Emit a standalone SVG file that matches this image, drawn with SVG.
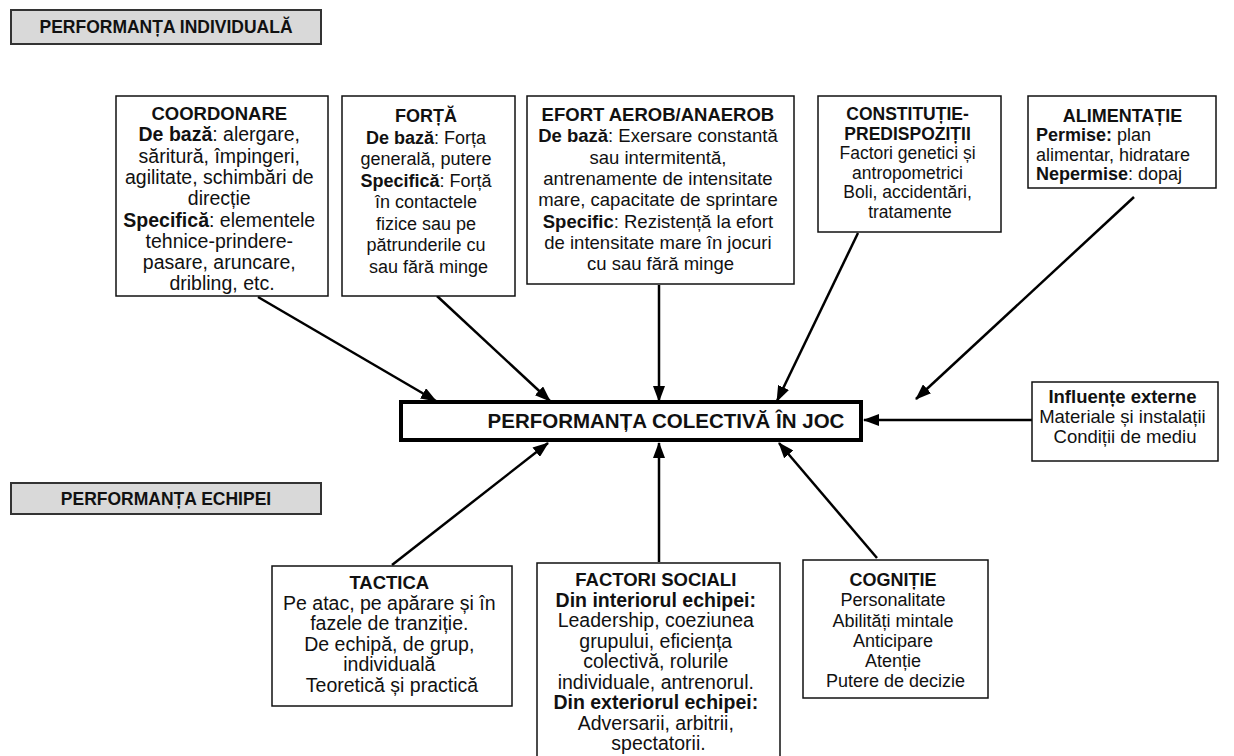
<svg xmlns="http://www.w3.org/2000/svg" width="1234" height="756" viewBox="0 0 1234 756">
<style>
text{font-family:"Liberation Sans",Arial,sans-serif;fill:#111;text-anchor:middle}
.b{font-weight:bold}
.box{fill:#fff;stroke:#111;stroke-width:1.5}
.lbl{fill:#d9d9d9;stroke:#333;stroke-width:2}
.main{fill:#fff;stroke:#000;stroke-width:4}
.arr{stroke:#000;stroke-width:2.5;fill:none;marker-end:url(#ah)}
</style>
<defs>
<marker id="ah" markerUnits="userSpaceOnUse" markerWidth="16" markerHeight="12" refX="15" refY="6" orient="auto">
<path d="M0,0 L16,6 L0,12 Z" fill="#000"/>
</marker>
</defs>
<rect width="1234" height="756" fill="#fff"/>

<g id="label-individual">
<rect class="lbl" x="11" y="10" width="310" height="34"/>
<text class="b" x="166" y="33" font-size="17.5">PERFORMANȚA INDIVIDUALĂ</text>
</g>

<g id="label-echipei">
<rect class="lbl" x="11" y="483" width="310" height="31"/>
<text class="b" x="166" y="505" font-size="17.5">PERFORMANȚA ECHIPEI</text>
</g>

<g id="connectors">
<line class="arr" x1="258" y1="297" x2="436" y2="401"/>
<line class="arr" x1="437" y1="296" x2="550" y2="401"/>
<line class="arr" x1="659" y1="285" x2="659" y2="401"/>
<line class="arr" x1="858" y1="233" x2="777" y2="401"/>
<line class="arr" x1="1134" y1="197" x2="916" y2="399"/>
<line class="arr" x1="1032" y1="420" x2="864" y2="420"/>
<line class="arr" x1="392" y1="565" x2="548" y2="443"/>
<line class="arr" x1="659" y1="562" x2="659" y2="443"/>
<line class="arr" x1="877" y1="558" x2="779" y2="443"/>
</g>

<g id="coordonare">
<rect class="box" x="116" y="96" width="212" height="200"/>
<text font-size="19.5">
<tspan class="b" x="222" y="120" font-size="18.5">COORDONARE</tspan>
<tspan x="222" y="141.3"><tspan class="b">De bază</tspan>: alergare,</tspan>
<tspan x="222" y="162.6">săritură, împingeri,</tspan>
<tspan x="222" y="183.9">agilitate, schimbări de</tspan>
<tspan x="222" y="205.2">direcție</tspan>
<tspan x="222" y="226.5"><tspan class="b">Specifică</tspan>: elementele</tspan>
<tspan x="222" y="247.8">tehnice-prindere-</tspan>
<tspan x="222" y="269.1">pasare, aruncare,</tspan>
<tspan x="222" y="290.4">dribling, etc.</tspan>
</text>
</g>

<g id="forta">
<rect class="box" x="342" y="96" width="173" height="200"/>
<text font-size="18">
<tspan class="b" x="428.5" y="122">FORȚĂ</tspan>
<tspan x="428.5" y="143.5"><tspan class="b">De bază</tspan>: Forța</tspan>
<tspan x="428.5" y="165">generală, putere</tspan>
<tspan x="428.5" y="186.5"><tspan class="b">Specifică</tspan>: Forță</tspan>
<tspan x="428.5" y="208">în contactele</tspan>
<tspan x="428.5" y="229.5">fizice sau pe</tspan>
<tspan x="428.5" y="251">pătrunderile cu</tspan>
<tspan x="428.5" y="272.5">sau fără minge</tspan>
</text>
</g>

<g id="efort">
<rect class="box" x="527" y="96" width="267" height="188"/>
<text font-size="18.5">
<tspan class="b" x="660.5" y="121">EFORT AEROB/ANAEROB</tspan>
<tspan x="660.5" y="142.3"><tspan class="b">De bază</tspan>: Exersare constantă</tspan>
<tspan x="660.5" y="163.6">sau intermitentă,</tspan>
<tspan x="660.5" y="184.9">antrenamente de intensitate</tspan>
<tspan x="660.5" y="206.2">mare, capacitate de sprintare</tspan>
<tspan x="660.5" y="227.5"><tspan class="b">Specific</tspan>: Rezistență la efort</tspan>
<tspan x="660.5" y="248.8">de intensitate mare în jocuri</tspan>
<tspan x="660.5" y="270.1">cu sau fără minge</tspan>
</text>
</g>

<g id="constitutie">
<rect class="box" x="818" y="96" width="183" height="136"/>
<text font-size="17.5">
<tspan class="b" x="910" y="120">CONSTITUȚIE-</tspan>
<tspan class="b" x="910" y="139.5">PREDISPOZIȚII</tspan>
<tspan x="910" y="159">Factori genetici și</tspan>
<tspan x="910" y="178.5">antropometrici</tspan>
<tspan x="910" y="198">Boli, accidentări,</tspan>
<tspan x="910" y="217.5">tratamente</tspan>
</text>
</g>

<g id="alimentatie">
<rect class="box" x="1028" y="96" width="188" height="92"/>
<text font-size="18">
<tspan class="b" x="1125" y="122">ALIMENTAȚIE</tspan>
<tspan x="1036" y="141" style="text-anchor:start"><tspan class="b">Permise:</tspan> plan</tspan>
<tspan x="1036" y="160.5" style="text-anchor:start">alimentar, hidratare</tspan>
<tspan x="1036" y="180" style="text-anchor:start"><tspan class="b">Nepermise</tspan>: dopaj</tspan>
</text>
</g>

<g id="performanta-colectiva">
<rect class="main" x="401" y="402" width="460" height="38"/>
<text class="b" x="666" y="428" font-size="20.5">PERFORMANȚA COLECTIVĂ ÎN JOC</text>
</g>

<g id="influente">
<rect class="box" x="1032" y="382" width="186" height="79"/>
<text font-size="18.5">
<tspan class="b" x="1125" y="403">Influențe externe</tspan>
<tspan x="1125" y="423">Materiale și instalații</tspan>
<tspan x="1125" y="443">Condiții de mediu</tspan>
</text>
</g>

<g id="tactica">
<rect class="box" x="272" y="566" width="240" height="140"/>
<text font-size="19.5">
<tspan class="b" x="392" y="589" font-size="18.5">TACTICA</tspan>
<tspan x="392" y="609.5">Pe atac, pe apărare și în</tspan>
<tspan x="392" y="630">fazele de tranziție.</tspan>
<tspan x="392" y="650.5">De echipă, de grup,</tspan>
<tspan x="392" y="671">individuală</tspan>
<tspan x="392" y="691.5">Teoretică și practică</tspan>
</text>
</g>

<g id="factori-sociali">
<rect class="box" x="537" y="563" width="243" height="200"/>
<text font-size="19.5">
<tspan class="b" x="658.5" y="586" font-size="18.5">FACTORI SOCIALI</tspan>
<tspan class="b" x="658.5" y="606.5">Din interiorul echipei:</tspan>
<tspan x="658.5" y="627">Leadership, coeziunea</tspan>
<tspan x="658.5" y="647.5">grupului, eficiența</tspan>
<tspan x="658.5" y="668">colectivă, rolurile</tspan>
<tspan x="658.5" y="688.5">individuale, antrenorul.</tspan>
<tspan class="b" x="658.5" y="709">Din exteriorul echipei:</tspan>
<tspan x="658.5" y="729.5">Adversarii, arbitrii,</tspan>
<tspan x="658.5" y="750">spectatorii.</tspan>
</text>
</g>

<g id="cognitie">
<rect class="box" x="803" y="560" width="185" height="138"/>
<text font-size="18">
<tspan class="b" x="895.5" y="586">COGNIȚIE</tspan>
<tspan x="895.5" y="606">Personalitate</tspan>
<tspan x="895.5" y="626.5">Abilități mintale</tspan>
<tspan x="895.5" y="647">Anticipare</tspan>
<tspan x="895.5" y="667">Atenție</tspan>
<tspan x="895.5" y="687">Putere de decizie</tspan>
</text>
</g>
</svg>
